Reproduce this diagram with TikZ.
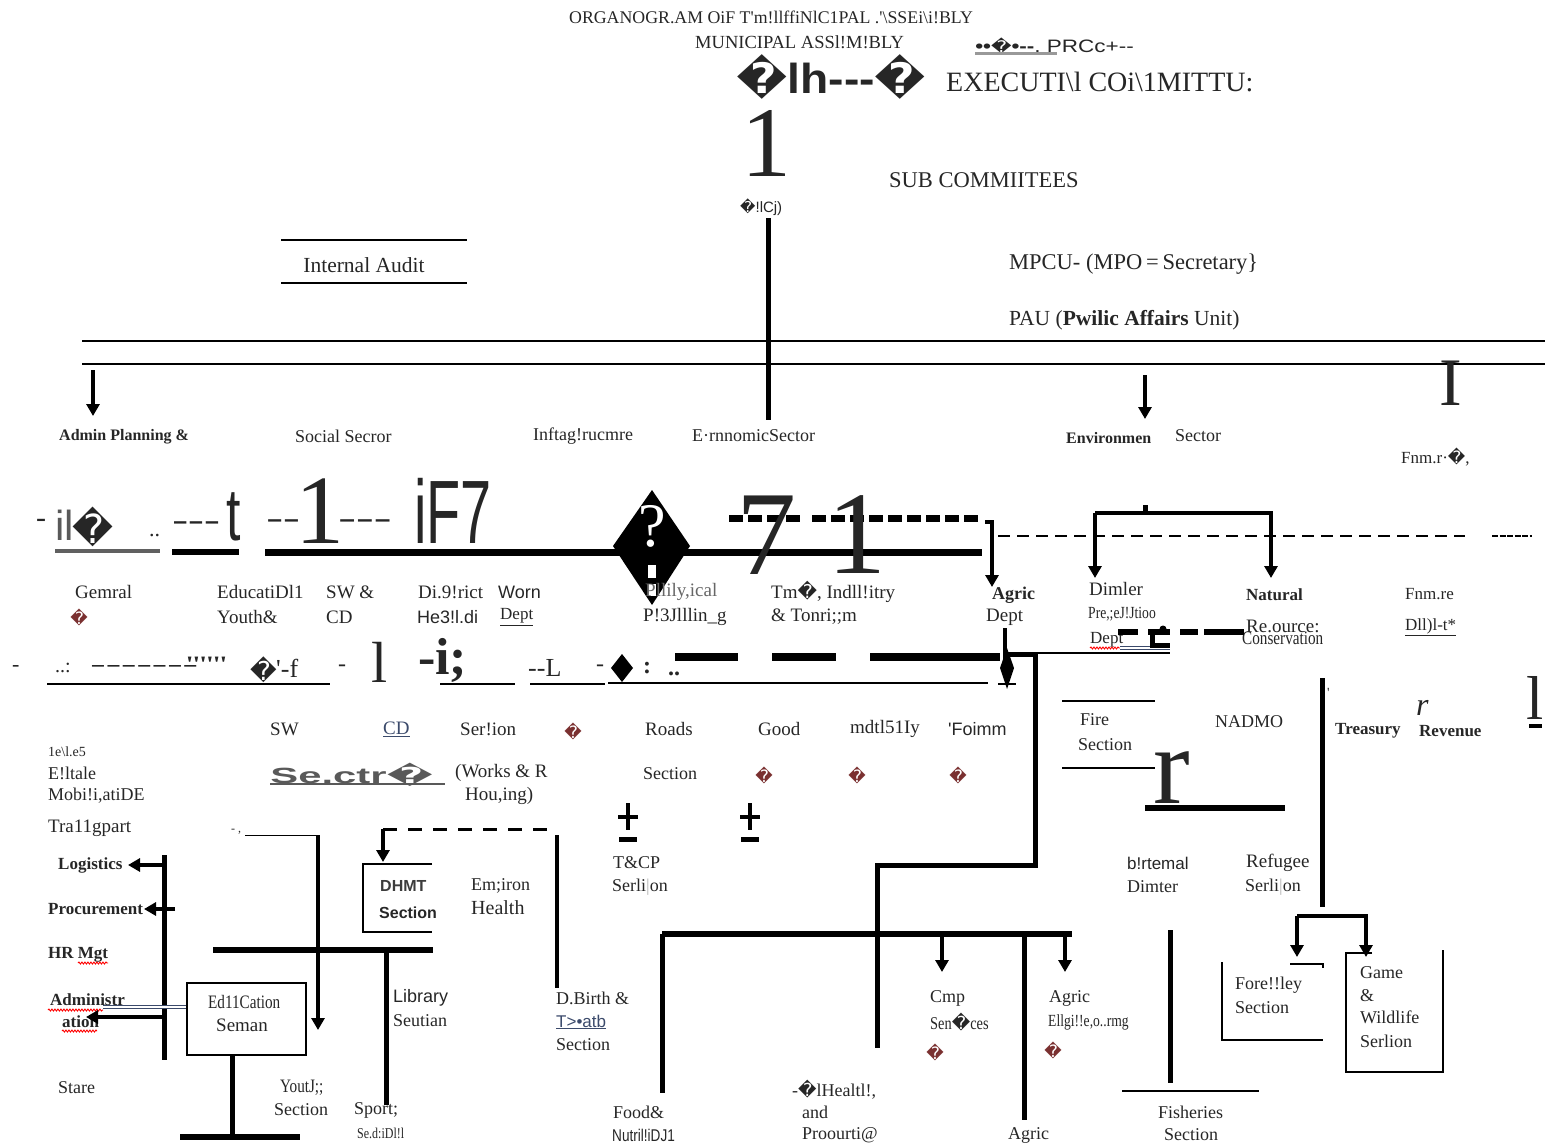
\documentclass[tikz,border=0pt]{standalone}
\usepackage{fontspec}
\setmainfont{Liberation Serif}[Ligatures=TeXOff]
\setsansfont{Liberation Sans}[Ligatures=TeXOff]
\newfontfamily\dv{DejaVu Sans}
\newfontfamily\nser[FakeStretch=0.8,Ligatures=TeXOff]{Liberation Serif}
\newfontfamily\nsan[FakeStretch=0.8,Ligatures=TeXOff]{Liberation Sans}
\usetikzlibrary{arrows.meta,shapes.geometric,decorations.pathmorphing}
\definecolor{rb}{HTML}{7A3030}
\definecolor{ink}{HTML}{262626}
\definecolor{lnk}{HTML}{3B4A6B}
\newcommand{\repch}{{\dv\symbol{"FFFD}}}
\newcommand{\redch}{\textcolor{rb}{\repch}}
\newcommand{\fs}[1]{\fontsize{#1}{#1}\selectfont}
\tikzset{
  t/.style={anchor=west,inner sep=0pt,text=ink,font=\fs{19}},
  ts/.style={t,font=\fs{18}\sffamily},
  arr/.style={line width=4.5pt,-{Triangle[width=13pt,length=12pt]}},
  thk/.style={line width=5pt},
  thin/.style={line width=1.5pt},
  wavy/.style={draw=red,line width=0.9pt,decorate,decoration={snake,amplitude=1pt,segment length=3pt}},
  rd/.style={inner sep=0pt,font=\fs{17}}
}
\begin{document}
\begin{tikzpicture}[x=1pt,y=-1pt]
\useasboundingbox (0,0) rectangle (1545,1145);
% ---------------- top
\node[t,anchor=center,font=\fs{17.8}] (title) at (771,17) {ORGANOGR.AM OiF T'm!llffiNlC1PAL .'\textbackslash SSEi\textbackslash i!BLY};
\node[t,font=\fs{18.5}] (mun) at (695,42) {MUNICIPAL ASSl!M!BLY};
\node[t,font=\fs{18}\sffamily,xscale=1.25] (prc) at (975,46) {\textbf{••}{\fs{16}\repch}\textbf{•--}, PRCc+--};
\draw[line width=3pt,gray!80] (975,54) -- (1057,54);
\node[t,font=\fs{42}\sffamily\bfseries,xscale=1.1] (sym) at (736,77) {\repch lh---\repch};
\node[t,font=\fs{28}] (exec) at (946,82) {EXECUTI\textbackslash l COi\textbackslash 1MITTU:};
\node[t,anchor=center,font=\fs{100}] (one) at (766,143) {1};
\node[t,font=\fs{22.5}] (sub) at (889,180) {SUB COMMIITEES};
\node[t,font=\fs{15}\sffamily] (clj) at (740,207) {\repch!lCj)};
\coordinate (vtop) at (768,218);
\coordinate (vbot) at (768,420);
\draw[thk] (vtop) -- (vbot);
% internal audit
\draw[line width=2pt] (281,240) -- (467,240);
\draw[line width=2pt] (281,283) -- (467,283);
\node[t,anchor=center,font=\fs{21.5}] (audit) at (364,265) {Internal Audit};
\node[t,font=\fs{22.5}] (mpcu) at (1009,264) {MPCU- (MPO\,=\,Secretary\}};
\node[t,font=\fs{21.5}] (pau) at (1009,320) {PAU (\textbf{Pwilic Affairs} Unit)};
\draw[line width=2.5pt] (82,341) -- (1545,341);
\draw[line width=2.5pt] (82,364) -- (1545,364);
\draw[arr] (93,370) -- (93,416);
\draw[arr] (1145,375) -- (1145,419);
\node[t,anchor=center,font=\fs{68}] (bigI) at (1451,383) {I};
% sectors
\node[t,font=\fs{16}\bfseries] (admin) at (59,437) {Admin Planning \&};
\node[t,font=\fs{18}] (social) at (295,436) {Social Secror};
\node[t,font=\fs{18}] (infra) at (533,436) {Inftag!rucmre};
\node[t,font=\fs{18}] (econ) at (692,436) {E\textperiodcentered rnnomicSector};
\node[t,font=\fs{16}\bfseries] (envi) at (1066,438) {Environmen};
\node[t,font=\fs{18}] (envs) at (1175,436) {Sector};
\node[t,font=\fs{17}] (fnmr) at (1401,457) {Fnm.r\textperiodcentered\repch,};
% ---------------- row 1 (garbled line)
\node[t,font=\fs{30}] (r1a) at (36,523) {-};
\node[t,font=\fs{42}\sffamily,text=gray!70!black] (r1b) at (55,525) {il};
\node[t,font=\fs{40}] (r1c) at (72,527) {\repch};
\node[t,font=\fs{22}] (r1d) at (149,536) {..};
\draw[line width=3.5pt,gray!75!black] (55,551) -- (160,551);
\node[t,font=\fs{28}\bfseries,xscale=1.7] (r1e) at (172,526) {---};
\node[t,font=\fs{74}\sffamily,xscale=0.7] (r1f) at (226,517) {t};
\draw[line width=6pt] (172,552) -- (239,552);
\node[t,font=\fs{28}\bfseries,xscale=1.8] (r1g) at (266,524) {--};
\node[t,anchor=center,font=\fs{98}] (r1h) at (320,511) {1};
\node[t,font=\fs{28}\bfseries,xscale=1.9] (r1i) at (338,524) {---};
\node[t,font=\fs{90}\sffamily,xscale=0.62] (r1j) at (414,511) {iF7};
\draw[line width=7pt] (265,552) -- (982,552);
\fill (652,490) -- (690,546) -- (652,605) -- (613,546) -- cycle;
\node[t,anchor=center,text=white,font=\fs{62}] (qm) at (652,526) {?};
\fill[white] (648,565) rectangle (656,578);
\fill[white] (648,584) rectangle (656,596);
\draw[line width=7pt,dash pattern=on 14pt off 5pt] (729,518) -- (800,518);
\draw[line width=7pt,dash pattern=on 14pt off 5pt] (812,518) -- (982,518);
\node[t,anchor=center,font=\fs{120}] (seven) at (766,535) {7};
\node[t,anchor=center,font=\fs{118}] (oneb) at (857,535) {1};
\coordinate (agtop) at (985,522);
\coordinate (agend) at (992,587);
\draw[arr] (agtop) -- (992,522) -- (agend);
\draw[line width=1.3pt,dash pattern=on 12pt off 7pt] (998,536) -- (1465,536);
\draw[line width=1.3pt,dash pattern=on 6pt off 1.5pt] (1492,536) -- (1532,536);
\draw[line width=5pt] (1145,505) -- (1145,513);
\draw[arr] (1095,513) -- (1095,578);
\draw[arr] (1095,513) -- (1271,513) -- (1271,578);
% ---------------- row 1 labels
\node[t] (gem) at (75,592) {Gemral};
\node[rd] (gemd) at (79,617) {\redch};
\node[t] (edu) at (217,592) {EducatiDl1};
\node[t] (you) at (217,617) {Youth\&};
\node[t] (swcd) at (326,592) {SW \&};
\node[t] (cd) at (326,617) {CD};
\node[t] (dis) at (418,592) {Di.9!rict};
\node[ts] (he) at (417,617) {He3!l.di};
\node[ts] (worn) at (498,592) {Worn};
\node[t,font=\fs{17}] (wdep) at (500,617) {\underline{Dept}};
\node[t,text=gray!80!black] (phy) at (645,592) {Pllily,ical};
\node[t] (plan) at (643,617) {P!3Jlllin\_g};
\node[t] (trade) at (771,592) {Tm\repch, Indll!itry};
\node[t] (tour) at (771,617) {\& Tonri;;m};
\node[t,font=\fs{18}\bfseries] (agr) at (992,595) {Agric};
\node[t] (adep) at (986,617) {Dept};
\node[t] (dim) at (1089,589) {Dimler};
\node[t,font=\fs{17}\nser] (prev) at (1088,614) {Pre,;eJ!Jtioo};
\node[t,font=\fs{17}] (ddep) at (1090,640) {Dept};
\draw[wavy] (1090,648) -- (1120,648);
\draw[line width=1pt,lnk,double=white,double distance=1.5pt] (1120,648) -- (1170,648);
\node[t,font=\fs{17}\bfseries] (nat) at (1246,595) {Natural};
\node[t] (reo) at (1246,626) {Re.ource:};
\node[t,font=\fs{19}\nser] (cons) at (1242,638) {Conservation};
\node[t,font=\fs{17}] (fnmre) at (1405,594) {Fnm.re};
\node[t,font=\fs{17}] (dll) at (1405,627) {\underline{Dll)l-t*}};
\draw[line width=6pt] (1118,632) -- (1138,632);
\draw[line width=6pt] (1148,632) -- (1170,632);
\draw[line width=5pt] (1152,632) -- (1152,645) -- (1170,645);
\fill (1163,629) circle (3.5);
\draw[line width=6pt] (1180,632) -- (1198,632);
\draw[line width=6pt] (1204,632) -- (1244,632);
\draw[line width=1.3pt,dash pattern=on 10pt off 6pt] (1015,653) -- (1170,653);
% ---------------- row 2 (garbled line)
\node[t,font=\fs{22}] (r2a) at (12,668) {-};
\draw[line width=1.5pt] (47,684) -- (330,684);
\node[t,font=\fs{20}] (r2b) at (55,668) {..:};
\node[t,font=\fs{22},xscale=2.1] (r2bb) at (90,668) {-------};
\node[t,font=\fs{22},xscale=1.7] (r2bc) at (186,664) {''''''};
\node[t,font=\fs{26}] (r2c) at (250,670) {\repch};
\node[t,font=\fs{26}] (r2d) at (276,668) {'-f};
\node[t,font=\fs{24}] (r2e) at (338,668) {-};
\node[t,anchor=center,font=\fs{58}] (r2f) at (380,662) {l};
\node[t,font=\fs{52}\bfseries] (r2g) at (418,660) {-i;};
\draw[line width=1.5pt] (440,684) -- (515,684);
\node[t,font=\fs{26}] (r2h) at (528,668) {--L};
\draw[line width=1.5pt] (530,684) -- (605,684);
\node[t,font=\fs{24}] (r2i) at (596,668) {-};
\fill (622,654) -- (633,668) -- (622,682) -- (611,668) -- cycle;
\node[t,font=\fs{24}\bfseries] (r2j) at (643,668) {:};
\node[t,font=\fs{24}\bfseries] (r2k) at (668,674) {..};
\draw[line width=8pt] (675,657) -- (738,657);
\draw[line width=8pt] (772,657) -- (836,657);
\draw[line width=8pt] (870,657) -- (1000,657);
\draw[line width=1.5pt] (608,683) -- (988,683);
\fill (1007,648) -- (1014,668) -- (1007,689) -- (1000,668) -- cycle;
\draw[line width=1.5pt] (998,684) -- (1016,684);
\coordinate (dtop) at (1005,628);
\draw[line width=4pt] (dtop) -- (1005,660);
\coordinate (corner) at (1035,654);
\draw[line width=5pt] (1008,654) -- (corner) -- (1035,865) -- (877,865) -- (877,1048);
\draw[line width=1.3pt,dash pattern=on 10pt off 6pt] (1040,653) -- (1170,653);
% ---------------- row 3 labels
\node[t] (sw2) at (270,729) {SW};
\node[t,text=lnk] (cd2) at (383,729) {\underline{CD}};
\node[t] (serion) at (460,729) {Ser!ion};
\node[rd] (sd1) at (573,731) {\redch};
\node[t] (roads) at (645,729) {Roads};
\node[t] (good) at (758,729) {Good};
\node[t] (ind) at (850,729) {mdtl51Iy};
\node[ts] (foimm) at (948,729) {'Foimm};
\draw[thin] (1062,701) -- (1155,701);
\draw[thin] (1062,768) -- (1155,768);
\node[t,font=\fs{18}] (fire) at (1080,720) {Fire};
\node[t,font=\fs{18}] (fires) at (1078,745) {Section};
\node[t,font=\fs{18}] (nad) at (1215,722) {NADMO};
\draw[thk] (1322,678) -- (1322,907);
\node[t,font=\fs{14}] (tick) at (1327,693) {'};
\node[t,font=\fs{17}\bfseries] (tre) at (1335,731) {Treasury};
\node[t,font=\fs{17}\bfseries] (rev) at (1419,731) {Revenue};
\node[t,font=\fs{32}\itshape] (ri) at (1416,708) {r};
\node[t,anchor=center,font=\fs{62}] (lr) at (1535,698) {l};
\draw[line width=4pt] (1529,726) -- (1542,726);
\node[t,anchor=center,font=\fs{110}] (bigr) at (1172,778) {r};
\draw[line width=6pt] (1145,808) -- (1285,808);
% ---------------- row 4
\node[t,font=\fs{14}] (lev) at (48,752) {1e\textbackslash l.e5};
\node[t,font=\fs{18}] (est) at (48,773) {E!ltale};
\node[t,font=\fs{18}] (mob) at (48,796) {Mobi!i,atiDE};
\node[t,font=\fs{22}\sffamily\bfseries,text=gray!70!black,xscale=1.9] (sectr) at (270,775) {Se.ctr\repch};
\draw[line width=2.5pt,gray!70!black] (270,784) -- (445,784);
\node[t] (works) at (455,773) {(Works \& R};
\node[t] (hous) at (465,796) {Hou,ing)};
\node[t,font=\fs{18}] (rsec) at (643,774) {Section};
\node[rd] (sd2) at (764,775) {\redch};
\node[rd] (sd3) at (857,775) {\redch};
\node[rd] (sd4) at (958,775) {\redch};
\node[t] (trans) at (48,828) {Tra11gpart};
\foreach \px in {628,750}{
  \draw[line width=3.5pt] (\px,803) -- (\px,830);
  \draw[line width=3.5pt] (\px-10,817) -- (\px+10,817);
  \draw[line width=5pt] (\px-9,839) -- (\px+9,839);
}
\node[t,font=\fs{18}] (tcp) at (613,863) {T\&CP};
\node[t,font=\fs{18}] (tcps) at (612,887) {Serli\textcolor{gray!60}{|}on};
% ---------------- left column
\draw[thk] (164,855) -- (164,1060);
\node[t,font=\fs{17}\bfseries] (logi) at (58,865) {Logistics};
\draw[arr] (164,865) -- (128,865);
\node[t,font=\fs{17}\bfseries] (proc) at (48,909) {Procurement};
\draw[arr] (175,909) -- (144,909);
\node[t,font=\fs{17}\bfseries] (hr) at (48,955) {HR Mgt};
\draw[wavy] (78,963) -- (108,963);
\node[t,font=\fs{17}\bfseries] (adm1) at (50,1000) {Administr};
\node[t,font=\fs{17}\bfseries] (adm2) at (62,1022) {ation};
\draw[wavy] (48,1010) -- (103,1010);
\draw[wavy] (62,1031) -- (97,1031);
\draw[line width=1pt,lnk,double=white,double distance=1.5pt] (103,1007) -- (188,1007);
\draw[arr] (164,1017) -- (86,1017);
\node[draw,line width=2pt,minimum width=119pt,minimum height=72pt,inner sep=0pt] (edbox) at (246.5,1019) {};
\node[t,font=\fs{19}\nser] (ed1) at (208,1002) {Ed11Cation};
\node[t] (ed2) at (216,1025) {Seman};
\draw[thk] (edbox.south -| 232,0) -- (232,1140);
\draw[line width=6pt] (180,1137) -- (300,1137);
\node[t,font=\fs{18}] (stare) at (58,1088) {Stare};
\draw[line width=6pt] (213,950) -- (433,950);
\node[t,font=\fs{12}] (tk2) at (231,832) {- ,};
\draw[line width=1pt] (245,835) -- (320,835);
\draw[arr] (318,835) -- (318,1030);
\draw[thk] (386,950) -- (386,1105);
\draw[line width=3pt,dash pattern=on 14pt off 11pt] (383,829) -- (557,829);
\draw[arr] (383,829) -- (383,862);
\draw[thin] (432,864) -- (363,864) -- (363,932) -- (432,932);
\node[t,font=\fs{16}\sffamily\bfseries,text=ink!90] (dhmt) at (380,886) {DHMT};
\node[t,font=\fs{16}\sffamily,text=ink] (dhs) at (379,913) {\textbf{Section}};
\node[t,font=\fs{18}] (env1) at (471,886) {Em;iron};
\node[t,font=\fs{20}] (env2) at (471,908) {Health};
\draw[line width=4pt] (557,835) -- (557,988);
\node[ts] (lib) at (393,998) {Library};
\node[t,font=\fs{18}] (seu) at (393,1021) {Seutian};
\node[t,font=\fs{19}\nser] (yo) at (280,1088) {YoutJ;;};
\node[t,font=\fs{18}] (yos) at (274,1110) {Section};
\node[t,font=\fs{18}] (spo) at (354,1110) {Sport;};
\node[t,font=\fs{15}\nser] (sdi) at (357,1133) {Se.d:iDl!l};
\node[t,font=\fs{18}] (db) at (556,998) {D.Birth \&};
\node[t,font=\fs{17}\sffamily,text=lnk] (dth) at (556,1022) {\underline{T>•atb}};
\node[t,font=\fs{18}] (dbs) at (556,1045) {Section};
% ---------------- middle bottom
\draw[line width=6pt] (662,934) -- (1072,934);
\draw[thk] (662,934) -- (662,1093);
\draw[arr] (942,934) -- (942,972);
\draw[arr] (1065,934) -- (1065,972);
\draw[thk] (1024,937) -- (1024,1120);
\node[t,font=\fs{18}] (food) at (613,1112) {Food\&};
\node[t,font=\fs{17}\nsan] (nut) at (612,1135) {Nutril!iDJ1};
\node[t,font=\fs{18}] (eh) at (792,1090) {-\repch lHealtl!,};
\node[t,font=\fs{18}] (and) at (802,1112) {and};
\node[t,font=\fs{18}] (pro) at (802,1135) {Proourti@};
\node[t,font=\fs{18}] (cmp) at (930,998) {Cmp};
\node[t,font=\fs{18}\nser] (serv) at (930,1022) {Sen\repch ces};
\node[rd] (sd5) at (935,1052) {\redch};
\node[t,font=\fs{18}] (ag2) at (1049,998) {Agric};
\node[t,font=\fs{17}\nser] (eng) at (1048,1022) {Ellgi!!e,o..rmg};
\node[rd] (sd6) at (1053,1050) {\redch};
\node[t,font=\fs{18}] (ag3) at (1008,1135) {Agric};
% ---------------- right bottom
\node[ts,font=\fs{17}\sffamily] (intn) at (1127,863) {b!rtemal};
\node[t,font=\fs{18}] (dimt) at (1127,887) {Dimter};
\node[t,font=\fs{19}] (refu) at (1246,863) {Refugee};
\node[t,font=\fs{18}] (refs) at (1245,887) {Serli\textcolor{gray!60}{|}on};
\draw[thk] (1170,930) -- (1170,1083);
\draw[line width=2pt] (1122,1091) -- (1259,1091);
\node[t,font=\fs{18}] (fish) at (1158,1112) {Fisheries};
\node[t,font=\fs{18}] (fishs) at (1164,1135) {Section};
\draw[arr] (1297,916) -- (1297,957);
\draw[arr] (1297,916) -- (1366,916) -- (1366,957);
\draw[thin] (1222,962) -- (1222,1040) -- (1323,1040);
\draw[thin] (1290,964) -- (1323,964) -- (1323,968);
\node[t,font=\fs{18}] (fore) at (1235,985) {Fore!!ley};
\node[t,font=\fs{18}] (fors) at (1235,1008) {Section};
\draw[thin] (1372,953) -- (1346,953) -- (1346,1072) -- (1443,1072) -- (1443,950);
\node[t,font=\fs{18}] (game) at (1360,973) {Game};
\node[t,font=\fs{18}] (gamp) at (1360,996) {\&};
\node[t,font=\fs{18}] (wild) at (1360,1017) {Wildlife};
\node[t,font=\fs{18}] (gsec) at (1360,1041) {Serlion};
\end{tikzpicture}
\end{document}
